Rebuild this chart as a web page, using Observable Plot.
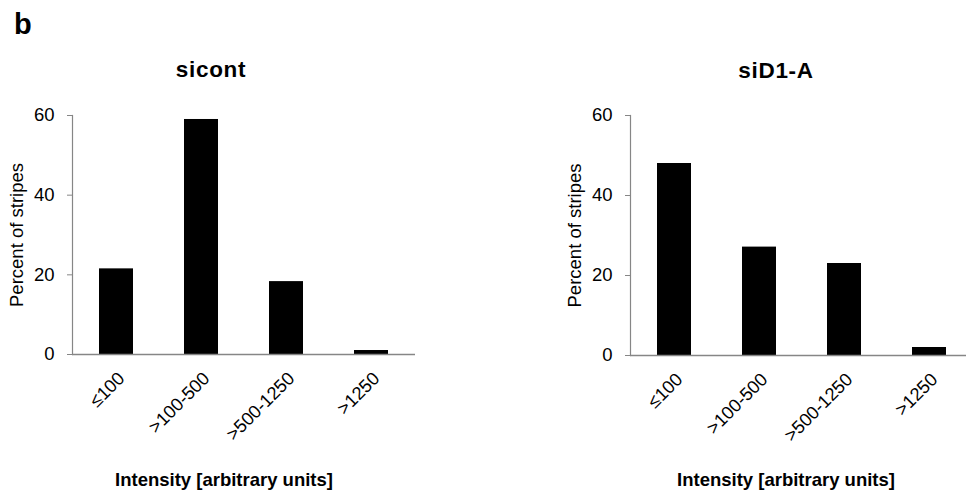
<!DOCTYPE html>
<html>
<head>
<meta charset="utf-8">
<script src="https://cdn.jsdelivr.net/npm/d3@7"></script>
<script src="https://cdn.jsdelivr.net/npm/@observablehq/plot@0.6"></script>
<style>
  html, body { margin: 0; padding: 0; background: #fff; overflow: hidden; }
  #fig { position: relative; width: 966px; height: 495px; overflow: hidden;
         font-family: "Liberation Sans", Arial, sans-serif; color: #000; }
  #fig .txt { position: absolute; line-height: 1; white-space: nowrap; transform: translateX(-50%); }
  #fig .panel { position: absolute; top: 0; }
  #fig svg { overflow: visible; }
</style>
</head>
<body>
<div id="fig"></div>
<script>
// Intensity bins and share of stripes (%) in each bin
const bins = ["≤100", ">100-500", ">500-1250", ">1250"];
const sicontValues = [21.5, 59, 18.3, 1];
const siD1AValues = [48, 27.1, 23, 2];
const yTicks = [0, 20, 40, 60];
const panelTitles = ["sicont", "siD1-A"];
const panelLetter = "b";
const xLabel = "Intensity [arbitrary units]";
const yLabel = "Percent of stripes";

const axisGray = "#868686";
const fig = document.getElementById("fig");

function panel(values, {width, marginLeft, marginRight, marginBottom}) {
  const data = bins.map((bin, i) => ({bin, value: values[i]}));
  return Plot.plot({
    width,
    height: 495,
    marginTop: 115,
    marginBottom,
    marginLeft,
    marginRight,
    style: {fontFamily: "Liberation Sans, Arial, sans-serif", color: "#000", background: "transparent"},
    x: {domain: bins, paddingInner: 0.6, paddingOuter: 0.3},
    y: {domain: [0, 60]},
    marks: [
      Plot.barY(data, {x: "bin", y: "value", fill: "#000"}),
      Plot.frame({anchor: "left", stroke: axisGray, strokeWidth: 1.2}),
      Plot.ruleY([0], {stroke: axisGray, strokeWidth: 1.6}),
      Plot.axisY({ticks: yTicks, tickSize: 5, tickPadding: 13, stroke: axisGray, fill: "#000", fontSize: 18.5,
                  label: yLabel, labelAnchor: "center", labelOffset: 63, labelArrow: "none"}),
      Plot.axisX({tickSize: 0, tickPadding: 21, tickRotate: -45, dx: 5, fill: "#000", fontSize: 18.2, label: null})
    ]
  });
}

function place(node, left) {
  node.classList.add("panel");
  node.style.left = left + "px";
  fig.appendChild(node);
}

place(panel(sicontValues, {width: 483, marginLeft: 72, marginRight: 68, marginBottom: 141}), 0);
place(panel(siD1AValues, {width: 500, marginLeft: 147, marginRight: 10, marginBottom: 140}), 483);

function addText(text, {left, top, size, bold = true, spacing = 0}) {
  const d = document.createElement("div");
  d.className = "txt";
  d.textContent = text;
  d.style.left = left + "px";
  d.style.top = top + "px";
  d.style.fontSize = size + "px";
  d.style.fontWeight = bold ? "bold" : "normal";
  d.style.letterSpacing = spacing + "px";
  fig.appendChild(d);
  return d;
}

const letter = addText(panelLetter, {left: 0, top: 10, size: 29});
letter.style.transform = "none";
letter.style.left = "14px";

addText(panelTitles[0], {left: 211, top: 58.5, size: 22.5, spacing: 0.7});
addText(panelTitles[1], {left: 776, top: 59.5, size: 22.5, spacing: 0.7});
addText(xLabel, {left: 224, top: 471, size: 18.5});
addText(xLabel, {left: 786, top: 471, size: 18.5});
</script>
</body>
</html>
